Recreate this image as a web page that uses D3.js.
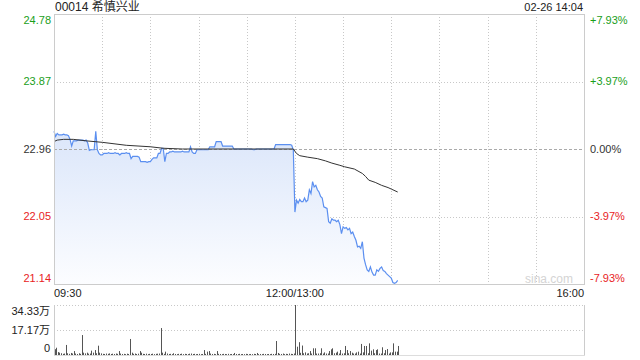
<!DOCTYPE html>
<html>
<head>
<meta charset="utf-8">
<script src="https://cdn.jsdelivr.net/npm/d3@7"></script>
<style>
  body { margin: 0; background: #fff; }
  svg { font-family: "Liberation Sans", Arial, "Noto Sans CJK SC", sans-serif; }
</style>
</head>
<body>
<svg id="chart" width="640" height="360"></svg>
<script>
// minutes since 09:30, lunch removed (0..150 morning, 150..330 afternoon)
const title = "00014 希慎兴业";
const stamp = "02-26 14:04";
const preClose = 22.96;
const priceTicks = [24.78, 23.87, 22.96, 22.05, 21.14];
const pctTicks = ["+7.93%", "+3.97%", "0.00%", "-3.97%", "-7.93%"];
const timeLabels = ["09:30", "12:00/13:00", "16:00"];
const timeLabelMins = [0, 150, 330];
const volTicks = [34.33, 17.17, 0];
const volTickLabels = ["34.33万", "17.17万", "0"];

// one price per minute, 09:30 .. 14:04
const prices = [
  23.20, 23.13, 23.17, 23.15, 23.15, 23.15, 23.16, 23.15, 23.15, 23.14,
  23.09, 23.00, 23.07, 23.07, 23.07, 23.08, 23.08, 23.08, 23.08, 23.07,
  23.08, 23.04, 22.94, 22.95, 22.95, 22.95, 23.20, 22.95, 22.90, 22.88,
  22.88, 22.90, 22.90, 22.90, 22.91, 22.90, 22.90, 22.90, 22.91, 22.90,
  22.90, 22.88, 22.90, 22.90, 22.90, 22.91, 22.90, 22.90, 22.83, 22.86,
  22.86, 22.86, 22.86, 22.85, 22.79, 22.79, 22.79, 22.79, 22.78, 22.79,
  22.79, 22.82, 22.84, 22.84, 22.84, 22.90, 22.90, 22.97, 22.97, 22.79,
  22.90, 22.90, 22.92, 22.92, 22.93, 22.92, 22.92, 22.92, 22.92, 22.92,
  22.93, 22.92, 22.92, 22.92, 22.92, 22.99, 22.92, 22.90, 22.90, 22.95,
  22.95, 22.95, 22.95, 22.95, 22.95, 22.95, 22.95, 22.99, 22.99, 22.99,
  22.99, 23.06, 23.06, 23.06, 23.06, 23.00, 23.00, 23.00, 23.00, 23.00,
  23.00, 23.00, 22.96, 22.96, 22.96, 22.96, 22.96, 22.96, 22.96, 22.96,
  22.96, 22.96, 22.96, 22.96, 22.95, 22.95, 22.96, 22.96, 22.96, 22.96,
  22.96, 22.96, 22.96, 22.96, 22.96, 22.96, 22.96, 22.96, 23.02, 23.02,
  23.02, 23.02, 23.02, 23.02, 23.02, 23.02, 23.02, 23.02, 23.01, 22.95,
  22.11, 22.27, 22.23, 22.28, 22.25, 22.25, 22.30, 22.25, 22.27, 22.41,
  22.36, 22.52, 22.45, 22.47, 22.41, 22.38, 22.32, 22.30, 22.18, 22.17,
  22.16, 21.98, 21.96, 22.02, 22.00, 22.00, 21.98, 22.00, 21.94, 21.82,
  21.91, 21.89, 21.90, 21.87, 21.89, 21.82, 21.84, 21.78, 21.73, 21.64,
  21.65, 21.62, 21.71, 21.49, 21.40, 21.33, 21.31, 21.37, 21.30, 21.26,
  21.26, 21.33, 21.31, 21.35, 21.37, 21.32, 21.31, 21.28, 21.26, 21.24,
  21.22, 21.16, 21.15, 21.16, 21.19
];

// average price, read at these minutes
const avgMins = [0, 2, 6, 12, 20, 30, 45, 60, 68, 80, 149, 151, 153, 158, 164, 169, 173, 178, 181, 187, 192, 194, 196, 200, 204, 208, 210, 214];
const avgPrices = [23.06, 23.08, 23.09, 23.09, 23.07, 23.05, 23.01, 22.99, 22.97, 22.96, 22.96, 22.90, 22.87, 22.85, 22.83, 22.80, 22.77, 22.74, 22.72, 22.69, 22.63, 22.59, 22.54, 22.51, 22.47, 22.44, 22.42, 22.38];

// volume per minute, in 万
const volumes = [
  4.0, 5.0, 2.0, 1.6, 1.2, 0.8, 1.0, 6.9, 1.2, 0.8,
  1.4, 1.0, 2.7, 1.0, 0.7, 1.2, 0.8, 13.7, 1.6, 1.1,
  1.6, 0.9, 1.0, 3.0, 1.6, 3.4, 1.2, 6.4, 1.6, 1.1,
  0.8, 0.7, 1.0, 0.8, 1.1, 0.7, 0.9, 0.7, 1.0, 0.8,
  2.7, 1.0, 0.7, 0.8, 0.6, 0.9, 0.7, 11.0, 1.6, 0.8,
  1.0, 0.7, 0.9, 2.7, 1.6, 0.8, 0.7, 0.9, 0.6, 0.8,
  0.7, 0.9, 0.6, 0.8, 0.9, 1.0, 18.5, 1.6, 0.8, 2.3,
  1.0, 0.7, 0.8, 0.6, 1.2, 0.7, 0.6, 0.8, 0.7, 0.9,
  0.6, 0.8, 0.7, 0.6, 0.9, 1.0, 0.7, 0.8, 0.6, 0.7,
  0.8, 0.6, 0.7, 3.4, 0.8, 2.3, 2.7, 1.0, 0.7, 0.8,
  0.6, 2.7, 0.8, 0.7, 0.6, 0.8, 0.7, 0.6, 0.8, 0.6,
  0.7, 0.6, 1.4, 0.7, 0.6, 0.8, 0.6, 0.7, 0.6, 0.8,
  0.7, 0.6, 0.7, 0.6, 0.8, 0.7, 1.4, 0.6, 0.7, 0.6,
  0.8, 0.7, 0.6, 0.7, 0.6, 0.8, 0.7, 0.8, 9.6, 1.4,
  0.8, 0.7, 1.0, 0.6, 0.8, 0.7, 1.0, 0.8, 0.7, 1.0,
  34.33, 5.7, 8.8, 1.5, 6.5, 1.2, 1.8, 1.0, 1.2, 2.7,
  1.0, 4.6, 4.6, 1.0, 1.0, 1.2, 4.6, 1.0, 1.8, 1.0,
  1.0, 2.7, 3.9, 4.6, 1.2, 1.6, 2.3, 1.0, 3.4, 1.0,
  1.2, 6.2, 3.4, 1.2, 2.7, 1.6, 1.0, 1.0, 1.8, 2.3,
  1.0, 7.6, 1.8, 6.2, 6.2, 1.2, 8.0, 3.0, 3.9, 1.2,
  3.4, 3.9, 1.0, 1.0, 5.3, 1.2, 3.4, 4.1, 1.0, 1.8,
  1.8, 8.0, 2.3, 2.3, 6.2
];

const svg = d3.select("#chart");
const m = { left: 54, right: 584, top: 14, bottom: 284 };
const vTop = 305, vBottom = 355;
const green = "#1a9e1a", red = "#e8231e", grid = "#c8c8c8";

const x = d3.scaleLinear().domain([0, 330]).range([m.left, m.right]);
const y = d3.scaleLinear().domain([priceTicks[4], priceTicks[0]]).range([m.bottom, m.top]);
const yv = d3.scaleLinear().domain([0, volTicks[0]]).range([vBottom, vTop]);

const colorOf = (i) => (i < 2 ? green : i === 2 ? "#333" : red);

// gradient for the area
const defs = svg.append("defs");
const grad = defs.append("linearGradient").attr("id", "fill").attr("x1", 0).attr("y1", 0).attr("x2", 0).attr("y2", 1);
grad.append("stop").attr("offset", "0%").attr("stop-color", "#dbe6fa");
grad.append("stop").attr("offset", "100%").attr("stop-color", "#fcfdff");

// vertical grid every 30 minutes
const vMins = d3.range(30, 330, 30);
svg.append("g").selectAll("line").data(vMins).enter().append("line")
  .attr("x1", (d) => Math.round(x(d)) + 0.5).attr("x2", (d) => Math.round(x(d)) + 0.5)
  .attr("y1", m.top).attr("y2", m.bottom)
  .attr("stroke", grid).attr("stroke-dasharray", "1,2");

// horizontal grid
svg.append("g").selectAll("line").data([priceTicks[1], priceTicks[3]]).enter().append("line")
  .attr("x1", m.left).attr("x2", m.right)
  .attr("y1", (d) => Math.round(y(d)) + 0.5).attr("y2", (d) => Math.round(y(d)) + 0.5)
  .attr("stroke", grid).attr("stroke-dasharray", "1,2");

// area + price line
const area = d3.area().x((d, i) => x(i)).y0(m.bottom).y1((d) => y(d));
svg.append("path").datum(prices).attr("d", area).attr("fill", "url(#fill)");

svg.append("line")
  .attr("x1", m.left).attr("x2", m.right)
  .attr("y1", Math.round(y(preClose)) + 0.5).attr("y2", Math.round(y(preClose)) + 0.5)
  .attr("stroke", "#aaa").attr("stroke-dasharray", "3,2");

svg.append("path").datum(prices)
  .attr("d", d3.line().x((d, i) => x(i)).y((d) => y(d)))
  .attr("fill", "none").attr("stroke", "#5b8ff0").attr("stroke-width", 1.2);

svg.append("path").datum(avgMins)
  .attr("d", d3.line().x((d) => x(d)).y((d, i) => y(avgPrices[i])))
  .attr("fill", "none").attr("stroke", "#333").attr("stroke-width", 1);

// frame
svg.append("rect").attr("x", m.left + 0.5).attr("y", m.top + 0.5)
  .attr("width", m.right - m.left).attr("height", m.bottom - m.top)
  .attr("fill", "none").attr("stroke", "#ccc");

// price labels
const labelY = (v, i) => (i === 0 ? y(v) + 6 : i === 4 ? y(v) - 6 : y(v));
svg.append("g").selectAll("text").data(priceTicks).enter().append("text")
  .attr("x", 51).attr("text-anchor", "end")
  .attr("y", (d, i) => labelY(d, i))
  .attr("dy", "0.35em").attr("font-size", 11)
  .attr("fill", (d, i) => colorOf(i)).text((d) => d.toFixed(2));

svg.append("g").selectAll("text").data(pctTicks).enter().append("text")
  .attr("x", 590)
  .attr("y", (d, i) => labelY(priceTicks[i], i))
  .attr("dy", "0.35em").attr("font-size", 11)
  .attr("fill", (d, i) => colorOf(i)).text((d) => d);

// title and timestamp
svg.append("text").attr("x", 55).attr("y", 11).attr("font-size", 12).attr("fill", "#222").text(title);
svg.append("text").attr("x", 583).attr("y", 11).attr("text-anchor", "end").attr("font-size", 11).attr("fill", "#222").text(stamp);

// time labels
svg.append("g").selectAll("text").data(timeLabels).enter().append("text")
  .attr("x", (d, i) => x(timeLabelMins[i]))
  .attr("y", 293).attr("dy", "0.35em").attr("font-size", 11).attr("fill", "#222")
  .attr("text-anchor", (d, i) => (i === 0 ? "start" : i === 1 ? "middle" : "end"))
  .text((d) => d);

// watermark
svg.append("text").attr("x", 573).attr("y", 279).attr("dy", "0.35em").attr("text-anchor", "end")
  .attr("font-size", 12).attr("fill", "#d4d4d4").text("sina.com");

// volume panel
svg.append("g").selectAll("line").data([volTicks[0], volTicks[1]]).enter().append("line")
  .attr("x1", m.left).attr("x2", m.right)
  .attr("y1", (d) => Math.round(yv(d)) + 0.5).attr("y2", (d) => Math.round(yv(d)) + 0.5)
  .attr("stroke", grid).attr("stroke-dasharray", "1,2");
svg.append("line").attr("x1", m.left + 0.5).attr("x2", m.left + 0.5).attr("y1", vTop).attr("y2", vBottom).attr("stroke", "#ccc");
svg.append("line").attr("x1", m.right + 0.5).attr("x2", m.right + 0.5).attr("y1", vTop).attr("y2", vBottom).attr("stroke", "#ccc");
svg.append("line").attr("x1", m.left).attr("x2", m.right + 1).attr("y1", vBottom + 0.5).attr("y2", vBottom + 0.5).attr("stroke", "#ddd");

svg.append("g").selectAll("rect").data(volumes).enter().append("rect")
  .attr("x", (d, i) => Math.floor(x(i)) + 1)
  .attr("y", (d) => yv(d))
  .attr("width", 1)
  .attr("height", (d) => vBottom - yv(d))
  .attr("fill", "#555");

svg.append("g").selectAll("text").data(volTickLabels).enter().append("text")
  .attr("x", 50).attr("text-anchor", "end")
  .attr("y", (d, i) => (i === 0 ? yv(volTicks[i]) + 6 : i === 2 ? yv(volTicks[i]) - 7 : yv(volTicks[i])))
  .attr("dy", "0.35em").attr("font-size", 11).attr("fill", "#222")
  .text((d) => d);
</script>
</body>
</html>
